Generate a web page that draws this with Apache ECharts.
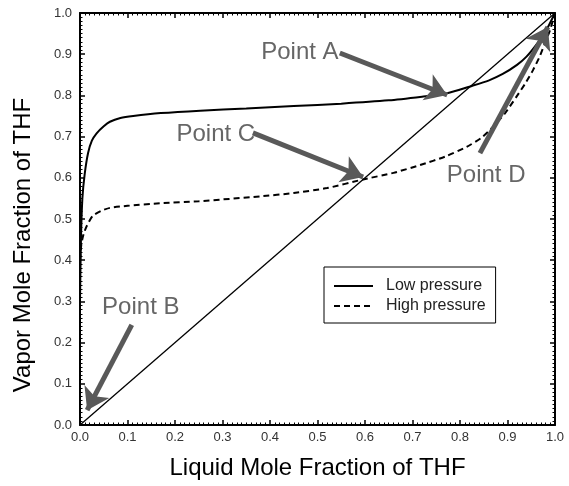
<!DOCTYPE html>
<html>
<head>
<meta charset="utf-8">
<script src="https://cdn.jsdelivr.net/npm/echarts@6/dist/echarts.min.js"></script>
<style>
  html, body { margin: 0; padding: 0; background: #fff; }
  #chart { width: 569px; height: 486px; }
</style>
</head>
<body>
<div id="chart"></div>
<script>
// vapor-liquid equilibrium curves for THF
const lowPressure = [
  [0, 0.30], [0.002, 0.45], [0.005, 0.55], [0.01, 0.61], [0.017, 0.66],
  [0.025, 0.69], [0.035, 0.708], [0.05, 0.725], [0.063, 0.736], [0.085, 0.745],
  [0.112, 0.75], [0.17, 0.757], [0.253, 0.763], [0.35, 0.768], [0.45, 0.774],
  [0.55, 0.78], [0.65, 0.788], [0.72, 0.797], [0.773, 0.805], [0.825, 0.823],
  [0.86, 0.836], [0.89, 0.852], [0.92, 0.874], [0.94, 0.894], [0.962, 0.925],
  [0.982, 0.959], [1, 1]
]
const highPressure = [
  [0, 0.40], [0.003, 0.44], [0.008, 0.465], [0.015, 0.485], [0.027, 0.508],
  [0.045, 0.52], [0.063, 0.527], [0.1, 0.532], [0.168, 0.538], [0.25, 0.543],
  [0.379, 0.555], [0.45, 0.563], [0.52, 0.575], [0.596, 0.596], [0.66, 0.612],
  [0.716, 0.631], [0.77, 0.652], [0.814, 0.675], [0.845, 0.697], [0.87, 0.724],
  [0.895, 0.757], [0.919, 0.797], [0.938, 0.83], [0.954, 0.862], [0.968, 0.895],
  [0.979, 0.927], [0.99, 0.96], [1, 1]
]
const diagonal = [[0, 0], [1, 1]]

const pointNames = ['Point A', 'Point B', 'Point C', 'Point D']
const labelPos = [[0.463, 0.905], [0.128, 0.286], [0.286, 0.706], [0.855, 0.607]]
const arrowFrom = [[0.547, 0.903], [0.109, 0.243], [0.364, 0.709], [0.842, 0.66]]
const arrowTo = [[0.773, 0.801], [0.015, 0.036], [0.596, 0.602], [0.985, 0.966]]

const chart = echarts.init(document.getElementById('chart'))

const font = 'Liberation Sans, Arial, sans-serif'
const frameAxis = {
  min: 0, max: 1, interval: 0.1,
  axisLine: { onZero: false, lineStyle: { color: '#000', width: 2 } },
  axisTick: { inside: true, length: 5, lineStyle: { color: '#000', width: 1.5 } },
  minorTick: { show: true, splitNumber: 10, length: 2.5, lineStyle: { color: '#000', width: 1 } },
  splitLine: { show: false }
}
const tickFont = {
  color: '#333', fontSize: 13, fontFamily: font,
  formatter: v => v.toFixed(1)
}

chart.setOption({
  animation: false,
  grid: { left: 80, right: 14, top: 13, bottom: 61 },
  legend: {
    data: ['Low pressure', 'High pressure'],
    orient: 'vertical',
    left: 324, top: 267,
    padding: [11, 10, 9, 9],
    itemGap: 4,
    itemWidth: 39, itemHeight: 14,
    itemStyle: { opacity: 0 },
    borderColor: '#000', borderWidth: 1,
    textStyle: { color: '#222', fontSize: 16, fontFamily: font, padding: [0, 0, 0, 8] }
  },
  xAxis: [
    Object.assign({}, frameAxis, {
      type: 'value', position: 'bottom',
      name: 'Liquid Mole Fraction of THF', nameLocation: 'middle', nameGap: 31,
      nameTextStyle: { color: '#000', fontSize: 24, fontFamily: font },
      axisLabel: Object.assign({ margin: 6 }, tickFont)
    }),
    Object.assign({}, frameAxis, { type: 'value', position: 'top', axisLabel: { show: false } })
  ],
  yAxis: [
    Object.assign({}, frameAxis, {
      type: 'value', position: 'left',
      name: 'Vapor Mole Fraction of THF', nameLocation: 'middle', nameGap: 45,
      nameTextStyle: { color: '#000', fontSize: 24, fontFamily: font, padding: [0, 52, 0, 0] },
      axisLabel: Object.assign({ margin: 8 }, tickFont)
    }),
    Object.assign({}, frameAxis, { type: 'value', position: 'right', axisLabel: { show: false } })
  ],
  series: [
    {
      name: 'Low pressure', type: 'line', data: lowPressure, smooth: 0.2,
      symbol: 'none', lineStyle: { color: '#000', width: 2 }, itemStyle: { color: '#000' }
    },
    {
      name: 'High pressure', type: 'line', data: highPressure, smooth: 0.2,
      symbol: 'none', lineStyle: { color: '#000', width: 2, type: [6, 4] }, itemStyle: { color: '#000' }
    },
    {
      name: 'y = x', type: 'line', data: diagonal,
      symbol: 'none', lineStyle: { color: '#000', width: 1.3 }
    },
    {
      name: 'arrows', type: 'lines', coordinateSystem: 'cartesian2d',
      data: arrowFrom.map((p, i) => ({ coords: [p, arrowTo[i]] })),
      symbol: ['none', 'arrow'], symbolSize: 21,
      lineStyle: { color: '#595959', width: 5, opacity: 1 },
      z: 5
    },
    {
      name: 'labels', type: 'scatter', symbolSize: 0,
      data: labelPos.map((p, i) => ({ value: p, name: pointNames[i] })),
      label: {
        show: true, position: 'inside', formatter: '{b}',
        color: '#404040', fontSize: 24, fontFamily: font
      },
      z: 6
    }
  ]
})
</script>
</body>
</html>
